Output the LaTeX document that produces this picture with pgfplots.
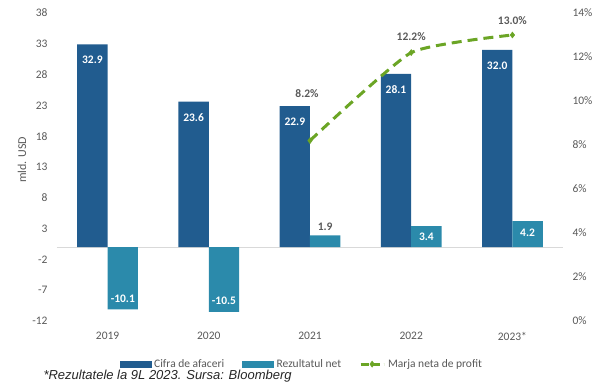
\documentclass[border=0pt]{standalone}
\usepackage{fontspec}
\setmainfont{Carlito}
\newfontfamily\arialfont{Liberation Sans}
\usepackage{pgfplots}
\usepackage{pgfplotstable}
\pgfplotsset{compat=1.18}
\definecolor{dkblue}{HTML}{215C8F}
\definecolor{ltblue}{HTML}{2B8AAB}
\definecolor{mgreen}{HTML}{6BA525}
\definecolor{txtgray}{HTML}{595959}
\definecolor{axgray}{HTML}{D9D9D9}

\pgfplotstableread{
x y lab
0 32.9 32.9
1 23.6 23.6
2 22.9 22.9
3 28.1 28.1
4 32.0 32.0
}\cifra

\pgfplotstableread{
x y lab dy wh
0 -10.1 -10.1 11 100
1 -10.5 -10.5 11 100
2 1.9 1.9 9 0
3 3.4 3.4 -11 100
4 4.2 4.2 -12 100
}\rezultat

\pgfplotstableread{
x y dy dx
2 8.2 47 -3
3 12.2 16 0
4 13.0 14 0
}\marja

\newcommand{\lblfont}{\fontsize{11.5}{13}\selectfont}

\begin{document}
\begin{tikzpicture}
\useasboundingbox (-57pt,-65pt) rectangle (543pt,321pt);
\begin{axis}[
  at={(0pt,0pt)}, anchor=south west,
  scale only axis, width=506pt, height=308pt,
  xmin=-0.5, xmax=4.5, ymin=-12, ymax=38,
  xtick={0,...,4}, xticklabels={2019,2020,2021,2022,2023*},
  ytick={-12,-7,...,38},
  axis line style={draw=none}, major tick length=0pt,
  /pgf/number format/assume math mode=true,
  tick label style={font=\lblfont, text=txtgray},
  yticklabel style={xshift=-6pt},
  xticklabel style={yshift=-8pt},
  extra y ticks={0}, extra y tick labels={},
  extra y tick style={grid=major, major grid style={draw=axgray, line width=1pt}},
  ylabel={mld. USD},
  every axis y label/.style={at={(axis description cs:-0.069,0.523)}, rotate=90, anchor=center, font=\fontsize{12}{14}\selectfont, text=txtgray},
  clip=false,
]
\addplot[ybar, bar width=0.3, bar shift=-0.15, fill=dkblue, draw=none,
  nodes near coords={\pgfplotspointmeta}, point meta=explicit symbolic,
  nodes near coords align=north,
  nodes near coords style={yshift=-8pt, xshift=-15.2pt, text=white, font=\lblfont\bfseries}]
  table[x=x, y=y, meta=lab] {\cifra};
\addplot[ybar, bar width=0.3, bar shift=0.15, fill=ltblue, draw=none,
  nodes near coords={\pgfplotspointmeta}, point meta=explicit symbolic,
  visualization depends on={\thisrow{dy}\as\dy},
  visualization depends on={\thisrow{wh}\as\wh},
  nodes near coords align=center,
  nodes near coords style={yshift=\dy pt, xshift=15.2pt, text=white!\wh!txtgray, font=\lblfont\bfseries}]
  table[x=x, y=y, meta=lab] {\rezultat};
\end{axis}
\begin{axis}[
  at={(0pt,0pt)}, anchor=south west,
  scale only axis, width=506pt, height=308pt,
  xmin=-0.5, xmax=4.5, ymin=0, ymax=14,
  ytick={0,2,...,14},
  /pgf/number format/assume math mode=true,
  yticklabel={\pgfmathprintnumber{\tick}\%},
  axis y line*=right, axis x line=none,
  axis line style={draw=none}, major tick length=0pt,
  tick label style={font=\lblfont, text=txtgray},
  yticklabel style={xshift=6pt},
  clip=false,
  legend style={at={(axis description cs:0.484,-0.14)}, anchor=center, draw=none,
    font=\lblfont, text=txtgray, legend columns=3,
    /tikz/every odd column/.style={column sep=1pt},
    /tikz/every even column/.style={column sep=16pt}},
]
\addlegendimage{legend image code/.code={\fill[dkblue] (0pt,-2.7pt) rectangle (31pt,2.7pt);}}
\addlegendentry{Cifra de afaceri}
\addlegendimage{legend image code/.code={\fill[ltblue] (0pt,-2.7pt) rectangle (31pt,2.7pt);}}
\addlegendentry{Rezultatul net}
\addplot[mgreen, line width=3pt, dash pattern=on 10pt off 6pt, smooth, tension=0.3,
  mark=diamond*, mark size=3pt, mark options={solid, line width=0.5pt},
  legend image code/.code={\draw[mgreen, line width=2.8pt, dash pattern=on 8pt off 3.5pt, mark=diamond*, mark size=3pt, mark options={solid, line width=0.5pt}, mark repeat=2, mark phase=2] plot coordinates {(0pt,0pt) (11.5pt,0pt) (23pt,0pt)};},
  point meta=y,
  nodes near coords={\pgfmathprintnumber[fixed,fixed zerofill,precision=1]{\pgfplotspointmeta}\%},
  visualization depends on={\thisrow{dy}\as\dy},
  visualization depends on={\thisrow{dx}\as\dx},
  nodes near coords align=center,
  nodes near coords style={yshift=\dy pt, xshift=\dx pt, text=txtgray, font=\lblfont\bfseries}]
  table[x=x, y=y] {\marja};
\addlegendentry{Marja neta de profit}
\end{axis}
\node[anchor=west, font=\arialfont\itshape\fontsize{13}{15}\selectfont, text=black!85] at (-17pt,-55pt) {*Rezultatele la 9L 2023. Sursa: Bloomberg};
\end{tikzpicture}
\end{document}
